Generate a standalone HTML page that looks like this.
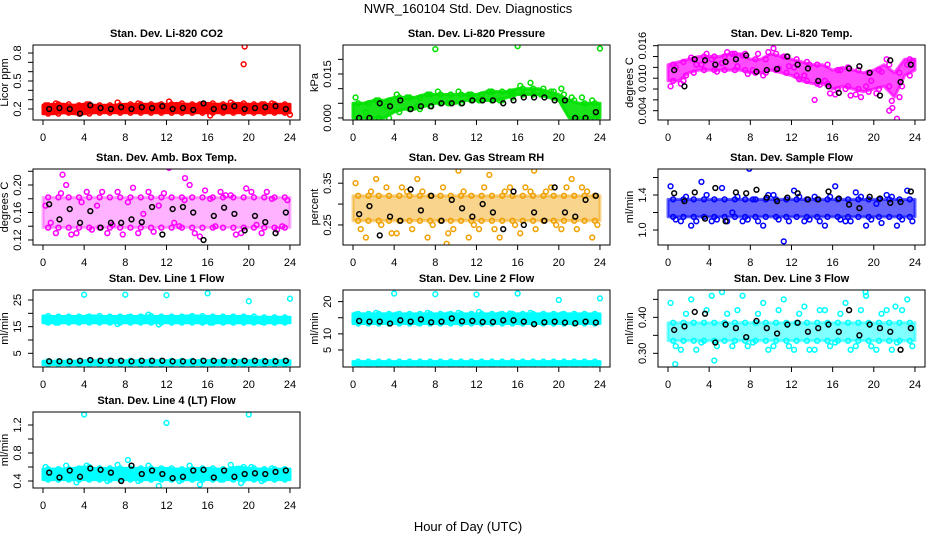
<!DOCTYPE html>
<html><head><meta charset="utf-8"><style>
body{margin:0;background:#fff;}
svg{display:block;font-family:"Liberation Sans",Arial,sans-serif;}
</style></head><body>
<svg id="chart" width="936" height="540" viewBox="0 0 936 540">
<rect width="936" height="540" fill="#fff"/>
<text x="468" y="13" font-size="13" text-anchor="middle">NWR_160104  Std. Dev. Diagnostics</text>
<text x="468" y="531" font-size="13" text-anchor="middle">Hour of Day (UTC)</text>
</svg>
<script>
const HOURS=[0,1,2,3,4,5,6,7,8,9,10,11,12,13,14,15,16,17,18,19,20,21,22,23,24];
const PTS_H=[0.25,1.25,2.25,3.25,4.25,5.25,6.25,7.25,8.25,9.25,10.25,11.25,12.25,13.25,14.25,15.25,16.25,17.25,18.25,19.25,20.25,21.25,22.25,23.25];
const PTS2_H=[0.75,1.75,2.75,3.75,4.75,5.75,6.75,7.75,8.75,9.75,10.75,11.75,12.75,13.75,14.75,15.75,16.75,17.75,18.75,19.75,20.75,21.75,22.75,23.75];
const BLK_H=[0.6,1.6,2.6,3.6,4.6,5.6,6.6,7.6,8.6,9.6,10.6,11.6,12.6,13.6,14.6,15.6,16.6,17.6,18.6,19.6,20.6,21.6,22.6,23.6];
const X_TICKS=[0,4,8,12,16,20,24];

const co2Lo=[.15,.15,.16,.15,.15,.16,.16,.16,.16,.16,.16,.16,.16,.16,.16,.16,.16,.16,.16,.16,.16,.16,.16,.16,.16];
const co2Hi=[.24,.25,.25,.24,.25,.24,.24,.24,.25,.25,.25,.25,.25,.26,.25,.25,.26,.25,.25,.26,.25,.25,.25,.25,.25];
const co2Pts=[.24,.26,.22,.18,.25,.22,.21,.27,.23,.26,.21,.24,.28,.22,.2,.25,.13,.23,.27,.24,.21,.25,.26,.2];
const co2Pts2=[];
const co2Blk=[.2,.21,.2,.15,.24,.21,.2,.22,.2,.22,.21,.23,.2,.21,.19,.26,.2,.22,.23,.2,.21,.22,.23,.2];
const co2OutX=[19.6,19.5,24];
const co2OutY=[.87,.68,.14];

const prLo=[0,0,0,0,.002,.003,.003,.004,.005,.005,.005,.006,.006,.006,.006,.007,.008,.008,.008,.007,.006,0,0,0,0];
const prHi=[.005,.005,.006,.006,.007,.007,.007,.008,.008,.008,.008,.008,.008,.009,.009,.009,.010,.010,.010,.009,.008,.006,.005,.005,.005];
const prPts=[.007,.002,.006,.004,.008,.007,.004,.008,.009,.005,.009,.008,.006,.009,.006,.009,.011,.012,.008,.009,.01,.007,.007,.006];
const prPts2=[];
const prBlk=[0,0,.005,.004,.006,.003,.004,.004,.005,.005,.005,.006,.006,.006,.005,.006,.007,.007,.007,.006,.006,0,0,.002];
const prOutX=[8,16,24];
const prOutY=[.0235,.0245,.0237];

const tpLo=[.0095,.0095,.011,.0115,.0115,.0115,.0115,.0115,.011,.011,.0115,.011,.0105,.0095,.009,.009,.008,.0085,.008,.0075,.008,.0085,.0065,.0105,.0115];
const tpHi=[.0125,.013,.0135,.014,.014,.014,.0145,.0145,.0135,.0135,.0145,.014,.0135,.013,.0125,.0125,.0115,.012,.0115,.011,.0115,.0125,.011,.0135,.0135];
const tpPts=[.0085,.009,.0138,.0125,.0135,.0128,.0145,.0142,.0115,.0105,.0155,.014,.012,.0105,.006,.0095,.007,.008,.007,.0085,.0072,.0135,.0025,.0125];
const tpPts2=[.012,.0105,.0125,.0145,.0112,.0148,.0122,.0108,.0145,.0148,.0118,.0122,.0098,.0125,.0088,.0072,.0115,.0068,.0065,.0095,.0112,.0058,.0085,.0132];
const tpBlk=[.0115,.0085,.0135,.0133,.0125,.013,.0135,.0142,.0112,.0115,.0117,.014,.0125,.0118,.0095,.0085,.0073,.0118,.0122,.011,.0068,.0133,.0093,.0125];
const tpOutX=[21.5,21.8];
const tpOutY=[.004,.0045];

const abLo=[.138,.138,.138,.138,.138,.138,.138,.138,.138,.138,.138,.138,.138,.138,.138,.138,.138,.138,.138,.138,.138,.138,.138,.138,.138];
const abHi=[.182,.182,.182,.182,.182,.182,.182,.182,.182,.182,.182,.182,.182,.182,.182,.182,.182,.182,.182,.182,.182,.182,.182,.182,.182];
const abPts=[.17,.13,.2,.13,.19,.17,.13,.19,.175,.13,.19,.17,.225,.14,.2,.125,.18,.19,.185,.13,.19,.13,.18,.14];
const abPts2=[.145,.188,.128,.175,.135,.19,.142,.128,.196,.158,.132,.188,.145,.178,.13,.192,.14,.185,.128,.195,.142,.19,.135,.178];
const abBlk=[.172,.15,.165,.145,.162,.138,.145,.145,.15,.146,.168,.128,.165,.168,.16,.12,.155,.167,.158,.134,.155,.146,.13,.16];
const abOutX=[1.9,13.8];
const abOutY=[.215,.21];

const rhLo=[.26,.26,.26,.26,.26,.26,.26,.26,.26,.26,.26,.26,.26,.26,.26,.26,.26,.26,.26,.26,.26,.26,.26,.26,.26];
const rhHi=[.32,.32,.32,.32,.32,.32,.32,.32,.32,.32,.32,.32,.32,.32,.32,.32,.32,.32,.32,.32,.32,.32,.32,.32,.32];
const rhPts=[.35,.22,.36,.34,.23,.33,.36,.22,.39,.23,.38,.22,.24,.37,.22,.34,.23,.33,.39,.34,.24,.36,.34,.22];
const rhPts2=[.24,.33,.25,.23,.34,.24,.33,.25,.34,.24,.33,.25,.34,.24,.33,.25,.34,.24,.33,.25,.34,.24,.33,.25];
const rhBlk=[.276,.295,.225,.27,.26,.335,.285,.32,.26,.31,.29,.27,.3,.28,.24,.33,.25,.28,.26,.34,.28,.27,.31,.32];
const rhOutX=[9.1,17.6];
const rhOutY=[.205,.38];

const sfLo=[1.15,1.15,1.15,1.15,1.15,1.15,1.15,1.15,1.15,1.15,1.15,1.15,1.15,1.15,1.15,1.15,1.15,1.15,1.15,1.15,1.15,1.15,1.15,1.15,1.15];
const sfHi=[1.35,1.35,1.35,1.35,1.35,1.35,1.35,1.35,1.35,1.35,1.35,1.35,1.35,1.35,1.35,1.35,1.35,1.35,1.35,1.35,1.35,1.35,1.35,1.35,1.35];
const sfPts=[1.5,1.1,1.05,1.55,1.1,1.48,1.2,1.1,1.35,1.05,1.4,.87,1.45,1.1,1.38,1.05,1.5,1.1,1.43,1.05,1.3,1.4,1.05,1.45];
const sfPts2=[1.12,1.38,1.1,1.4,1.12,1.1,1.38,1.12,1.1,1.4,1.12,1.1,1.38,1.12,1.1,1.38,1.12,1.1,1.38,1.12,1.08,1.38,1.12,1.1];
const sfBlk=[1.42,1.33,1.43,1.13,1.48,1.1,1.43,1.42,1.46,1.37,1.33,1.37,1.42,1.35,1.35,1.44,1.36,1.29,1.25,1.38,1.36,1.31,1.32,1.44];
const sfOutX=[7.9];
const sfOutY=[1.7];

const l1Lo=[16.5,16.5,16.5,16.5,16.5,16.5,16.5,16.5,16.5,16.5,16.5,16.5,16.5,16.5,16.5,16.5,16.5,16.5,16.5,16.5,16.5,16.5,16.5,16.5,16.5];
const l1Hi=[19,18.8,18.8,18.8,18.8,19,18.8,18.8,18.8,18.8,19,18.8,18.8,18.8,19,19,18.8,18.8,18.8,18.8,18.8,18.5,18.5,18.5,18.5];
const l1BaseLo=[.8,.8,.8,.8,.8,.8,.8,.8,.8,.8,.8,.8,.8,.8,.8,.8,.8,.8,.8,.8,.8,.8,.8,.8,.8];
const l1BaseHi=[2,2,2,2,2.2,2.2,2.2,2.2,2.2,2.2,2.2,2.2,2.2,2.2,2.2,2.2,2.2,2.2,2.2,2.2,2.2,2.2,2.2,2.2,2.2];
const l1Pts=[17,16.5,18,17,18.5,17.5,17,16,18.5,17,19.5,15.8,17.5,17,18.5,17,16.5,18,17,18,17,16.8,17.5,17.5];
const l1Pts2=[];
const l1Blk=[2,2,2,2.2,2.5,2.2,2.2,2.2,2,2.2,2.2,2.2,2,2,2,2.2,2.2,2.2,2,2.2,2.2,2,2,2.2];
const l1OutX=[4,8,12,16,20,24];
const l1OutY=[27,27,26.8,27.5,24.5,25.5];

const l2Lo=[13.2,13.2,13.2,13.2,13.2,13.2,13.2,13.2,13.2,13.2,13.2,13.2,13.2,13.2,13.2,13.2,13.2,13.2,13.2,13.2,13.2,13.2,13.2,13.2,13.2];
const l2Hi=[16.2,16.2,16.2,16.2,16.2,16.2,16.2,16.2,16.2,16.2,16.2,16.2,16.2,16.2,16.2,16.2,16.2,16.2,16.2,16.2,16.2,16.2,16.2,16.2,16.2];
const l2BaseLo=[.4,.4,.4,.4,.4,.4,.4,.4,.4,.4,.4,.4,.4,.4,.4,.4,.4,.4,.4,.4,.4,.4,.4,.4,.4];
const l2BaseHi=[1.4,1.4,1.4,1.4,1.4,1.4,1.4,1.4,1.4,1.4,1.4,1.4,1.4,1.4,1.4,1.4,1.4,1.4,1.4,1.4,1.4,1.4,1.4,1.4,1.4];
const l2Pts=[16,15,16.5,14,16,15.5,13.5,16.5,15,16,16.5,14,16.8,15,16,16.3,15,16.5,14.5,15,16,14,15,15.5];
const l2Pts2=[];
const l2Blk=[14,13.8,13.8,13.2,14.2,13.8,14.5,13.6,13.8,14.8,13.9,14,13.7,13.7,14.2,14.2,13.8,13,13.6,13.8,13.5,13.3,13.8,13.5];
const l2OutX=[4,8,12,16,20,24];
const l2OutY=[22.5,22.3,22.2,22.5,20.5,21];

const l3Lo=[.335,.335,.335,.335,.335,.335,.335,.335,.335,.335,.335,.335,.335,.335,.335,.335,.335,.335,.335,.335,.335,.335,.335,.335,.335];
const l3Hi=[.385,.385,.385,.385,.385,.385,.385,.385,.385,.385,.385,.385,.385,.385,.385,.385,.385,.385,.385,.385,.385,.385,.385,.385,.385];
const l3Pts=[.44,.31,.45,.33,.46,.47,.32,.46,.33,.44,.32,.45,.31,.43,.31,.42,.33,.44,.32,.46,.31,.42,.33,.45];
const l3Pts2=[.32,.41,.31,.42,.32,.41,.42,.32,.41,.31,.42,.32,.41,.31,.42,.32,.41,.31,.42,.32,.41,.31,.42,.32];
const l3Blk=[.365,.375,.415,.41,.33,.38,.37,.345,.39,.37,.355,.38,.385,.36,.37,.38,.36,.42,.35,.38,.37,.36,.31,.37];
const l3OutX=[.7,4.5,19.2,22.1];
const l3OutY=[.27,.28,.47,.43];

const l4Lo=[.42,.42,.42,.42,.42,.42,.42,.42,.42,.42,.42,.42,.42,.42,.42,.42,.42,.42,.42,.42,.42,.42,.42,.42,.42];
const l4Hi=[.57,.57,.57,.58,.6,.58,.58,.58,.58,.58,.58,.58,.58,.57,.57,.58,.58,.57,.57,.6,.58,.57,.57,.57,.57];
const l4Pts=[.6,.45,.62,.38,.62,.55,.4,.63,.7,.4,.62,.33,.55,.4,.62,.35,.55,.42,.63,.37,.6,.4,.58,.55];
const l4Pts2=[];
const l4Blk=[.52,.45,.55,.46,.58,.56,.52,.4,.62,.5,.55,.5,.44,.46,.55,.56,.45,.55,.46,.5,.51,.5,.53,.55];
const l4OutX=[4,12,20];
const l4OutY=[1.35,1.23,1.35];

const NS="http://www.w3.org/2000/svg";
const svg=document.getElementById('chart');
const COLL=[33,343,658], ROWT=[45,169,290,412], ROWB=[120,245,367,488], W=267;

const panels=[
 {id:'co2',t:'Stan. Dev. Li-820 CO2',yl:'Licor ppm',c:0,r:0,ymin:.082,ymax:.886,ticks:[.2,.3,.4,.5,.6,.7,.8],labs:{'0.2':.2,'0.5':.5,'0.8':.8},col:'#ff0000',op:1,lo:co2Lo,hi:co2Hi,pts:co2Pts,pts2:co2Pts2,blk:co2Blk,ox:co2OutX,oy:co2OutY},
 {id:'pressure',t:'Stan. Dev. Li-820 Pressure',yl:'kPa',c:1,r:0,ymin:-.0007,ymax:.0249,ticks:[0,.005,.01,.015,.02],labs:{'0.000':0,'0.015':.015},col:'#00e000',op:.9,lo:prLo,hi:prHi,pts:prPts,pts2:prPts2,blk:prBlk,ox:prOutX,oy:prOutY},
 {id:'temp',t:'Stan. Dev. Li-820 Temp.',yl:'degrees C',c:2,r:0,ymin:.00228,ymax:.01613,ticks:[.004,.006,.008,.01,.012,.014,.016],labs:{'0.004':.004,'0.010':.01,'0.016':.016},col:'#ff00ff',op:.7,lo:tpLo,hi:tpHi,pts:tpPts,pts2:tpPts2,blk:tpBlk,ox:tpOutX,oy:tpOutY},
 {id:'ambbox',t:'Stan. Dev. Amb. Box Temp.',yl:'degrees C',c:0,r:1,ymin:.1127,ymax:.2233,ticks:[.12,.14,.16,.18,.2,.22],labs:{'0.12':.12,'0.16':.16,'0.20':.2},col:'#ff00ff',op:.3,lo:abLo,hi:abHi,pts:abPts,pts2:abPts2,blk:abBlk,ox:abOutX,oy:abOutY},
 {id:'rh',t:'Stan. Dev. Gas Stream RH',yl:'percent',c:1,r:1,ymin:.202,ymax:.384,ticks:[.25,.3,.35],labs:{'0.25':.25,'0.35':.35},col:'#f0a000',op:.45,lo:rhLo,hi:rhHi,pts:rhPts,pts2:rhPts2,blk:rhBlk,ox:rhOutX,oy:rhOutY},
 {id:'sampleflow',t:'Stan. Dev. Sample Flow',yl:'ml/min',c:2,r:1,ymin:.829,ymax:1.697,ticks:[1,1.2,1.4,1.6],labs:{'1.0':1,'1.4':1.4},col:'#0000ff',op:.6,lo:sfLo,hi:sfHi,pts:sfPts,pts2:sfPts2,blk:sfBlk,ox:sfOutX,oy:sfOutY},
 {id:'line1',t:'Stan. Dev. Line 1 Flow',yl:'ml/min',c:0,r:2,ymin:-.13,ymax:28.75,ticks:[5,10,15,20,25],labs:{'5':5,'15':15,'25':25},col:'#00ffff',op:1,lo:l1Lo,hi:l1Hi,blo:l1BaseLo,bhi:l1BaseHi,pts:l1Pts,pts2:l1Pts2,blk:l1Blk,ox:l1OutX,oy:l1OutY},
 {id:'line2',t:'Stan. Dev. Line 2 Flow',yl:'ml/min',c:1,r:2,ymin:-.28,ymax:23.6,ticks:[5,10,15,20],labs:{'5':5,'10':10,'20':20},col:'#00ffff',op:1,lo:l2Lo,hi:l2Hi,blo:l2BaseLo,bhi:l2BaseHi,pts:l2Pts,pts2:l2Pts2,blk:l2Blk,ox:l2OutX,oy:l2OutY},
 {id:'line3',t:'Stan. Dev. Line 3 Flow',yl:'ml/min',c:2,r:2,ymin:.262,ymax:.476,ticks:[.3,.35,.4,.45],labs:{'0.30':.3,'0.40':.4},col:'#00ffff',op:.5,lo:l3Lo,hi:l3Hi,pts:l3Pts,pts2:l3Pts2,blk:l3Blk,ox:l3OutX,oy:l3OutY},
 {id:'line4',t:'Stan. Dev. Line 4 (LT) Flow',yl:'ml/min',c:0,r:3,ymin:.3,ymax:1.386,ticks:[.4,.6,.8,1,1.2],labs:{'0.4':.4,'0.8':.8,'1.2':1.2},col:'#00ffff',op:1,lo:l4Lo,hi:l4Hi,pts:l4Pts,pts2:l4Pts2,blk:l4Blk,ox:l4OutX,oy:l4OutY}
];

function mk(tag,attrs,parent){const e=document.createElementNS(NS,tag);for(const k in attrs)e.setAttribute(k,attrs[k]);(parent||svg).appendChild(e);return e;}

panels.forEach(p=>{
 const L=COLL[p.c],T=ROWT[p.r],B=ROWB[p.r];
 const sx=h=>L+10+h*10.29;
 const sy=v=>T+(p.ymax-v)/(p.ymax-p.ymin)*(B-T);
 const g=mk('g',{});
 
 
 const cp=mk('clipPath',{id:'cp-'+p.id},g);
 mk('rect',{x:L,y:T,width:W,height:B-T},cp);
 const data=mk('g',{'clip-path':'url(#cp-'+p.id+')'},g);
 function dot(x,y,col,nm){
  const c=mk('circle',{cx:x,cy:y,r:2.4,fill:'none',stroke:col,'stroke-width':1.5},data);
  
  
 }
 function band(lo,hi,nm){
  let d='';HOURS.forEach((h,i)=>{d+=(i?'L':'M')+sx(h).toFixed(1)+','+sy(hi[i]).toFixed(1);});
  for(let i=HOURS.length-1;i>=0;i--)d+='L'+sx(HOURS[i]).toFixed(1)+','+sy(lo[i]).toFixed(1);
  const b=mk('path',{d:d+'Z',fill:p.col,'fill-opacity':p.op,stroke:p.col,'stroke-width':3,'stroke-opacity':p.op,'stroke-linejoin':'round'},data);
  
  
  HOURS.forEach((h,i)=>{if(h<24){dot(sx(h+0.5),sy(lo[i]),p.col,'band-point');dot(sx(h+0.5),sy(hi[i]),p.col,'band-point');}});
 }
 band(p.lo,p.hi,'spread-band');
 if(p.blo)band(p.blo,p.bhi,'base-band');
 p.pts.forEach((v,i)=>dot(sx(PTS_H[i]),sy(v),p.col,'color-point'));
 p.pts2.forEach((v,i)=>dot(sx(PTS2_H[i]),sy(v),p.col,'color-point'));
 p.ox.forEach((x,i)=>dot(sx(x),sy(p.oy[i]),p.col,'outlier-point'));
 p.blk.forEach((v,i)=>dot(sx(BLK_H[i]),sy(v),'#000','black-point'));
 const box=mk('rect',{x:L,y:T,width:W,height:B-T,fill:'none',stroke:'#000','stroke-width':1},g);
 
 
 const tt=mk('text',{x:L+W/2,y:T-8,'font-size':11,'font-weight':'bold','text-anchor':'middle'},g);
 tt.textContent=p.t;
 
 
 X_TICKS.forEach(h=>{
  mk('line',{x1:sx(h),x2:sx(h),y1:B,y2:B+5,stroke:'#000'},g);
  const t=mk('text',{x:sx(h),y:B+21,'font-size':11,'text-anchor':'middle'},g);
  t.textContent=h;
  
  
 });
 p.ticks.forEach(v=>mk('line',{x1:L-5,x2:L,y1:sy(v),y2:sy(v),stroke:'#000'},g));
 for(const k in p.labs){
  const y=sy(p.labs[k]);
  const t=mk('text',{x:L-12,y:y,'font-size':11,'text-anchor':'middle',transform:'rotate(-90 '+(L-12)+' '+y+')'},g);
  t.textContent=k;
  
  
 }
 const ym=(T+B)/2;
 const yl=mk('text',{x:L-25,y:ym,'font-size':11,'text-anchor':'middle',transform:'rotate(-90 '+(L-25)+' '+ym+')'},g);
 yl.textContent=p.yl;
 
 
});
</script>
</body></html>
